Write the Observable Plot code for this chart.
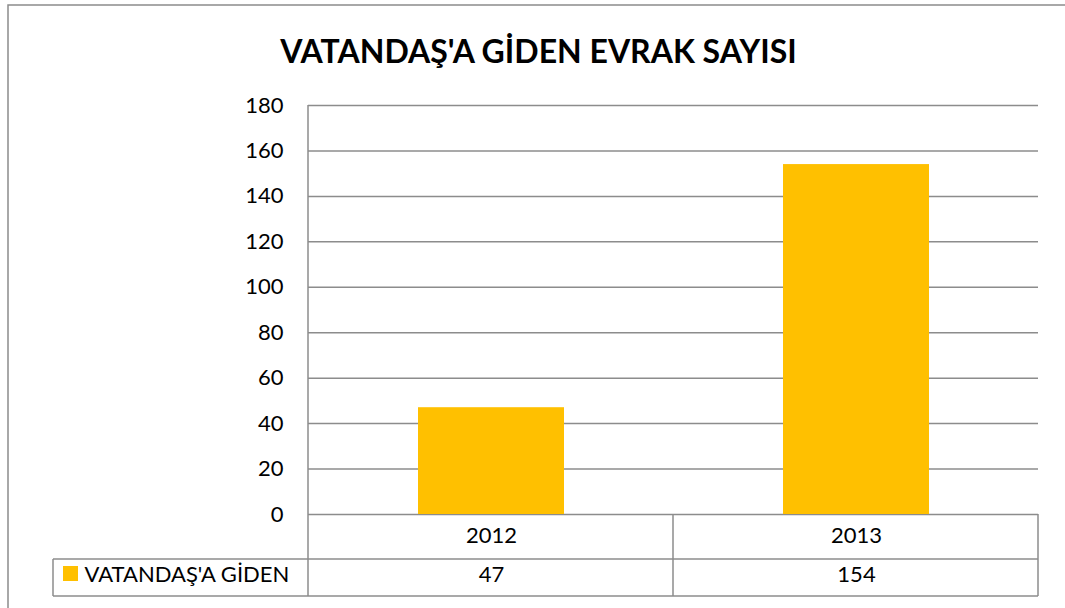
<!DOCTYPE html>
<html><head><meta charset="utf-8">
<script src="https://cdn.jsdelivr.net/npm/d3@7"></script>
<script src="https://cdn.jsdelivr.net/npm/@observablehq/plot@0.6"></script>
<style>body{margin:0;background:#fff} #chart{width:1065px;height:608px}</style>
</head><body><div id="chart"></div>
<script>
const years = ["2012", "2013"];
const values = [47, 154];
const seriesName = "VATANDAŞ'A GİDEN";
const title = "VATANDAŞ'A GİDEN EVRAK SAYISI";
const yTicks = [0, 20, 40, 60, 80, 100, 120, 140, 160, 180];

const data = years.map((y, i) => ({year: y, value: values[i]}));
const gridColor = "#8c8c8c";
const barColor = "#FFC000";

const plot = Plot.plot({
  width: 1065, height: 608,
  marginLeft: 308, marginRight: 27, marginTop: 105, marginBottom: 94,
  style: {fontFamily: "Lato", fontSize: "22px", color: "#000", background: "#fff", overflow: "visible"},
  x: {domain: years, paddingInner: 0.6, paddingOuter: 0.3, axis: null},
  y: {domain: [0, 180], axis: null, label: null},
  marks: [
    Plot.ruleY(yTicks, {stroke: gridColor, strokeWidth: 1.5}),
    Plot.barY(data, {x: "year", y: "value", fill: barColor}),
    Plot.axisY(yTicks, {anchor: "left", label: null, tickSize: 0, tickPadding: 25, fontSize: 22, fill: "#000"}),
    Plot.text(data, {x: "year", y: 0, dy: 21, text: "year", fontSize: 22, fill: "#000"}),
    Plot.text(data, {x: "year", y: 0, dy: 60, text: d => String(d.value), fontSize: 22, fill: "#000"}),
    Plot.text([seriesName], {frameAnchor: "bottom-left", lineAnchor: "middle", dx: -224, dy: 60, text: d => d, textAnchor: "start", fontSize: 22, fill: "#000"}),
    Plot.text([title], {frameAnchor: "top", lineAnchor: "middle", dx: -135, dy: -53, text: d => d, fontSize: 32, fontWeight: "bold", fill: "#000"})
  ]
});
document.getElementById("chart").appendChild(plot);

// table borders, legend swatch and outer frame
const svg = d3.select(plot);
const g = svg.append("g").attr("stroke", gridColor).attr("stroke-width", 1.5).attr("fill", "none");
const lines = [
  [308, 105, 308, 596], [673, 514, 673, 596], [1038, 514, 1038, 596], [53, 559, 53, 596],
  [53, 559, 1038, 559], [53, 596, 1038, 596]
];
lines.forEach(([x1, y1, x2, y2]) => g.append("line").attr("x1", x1).attr("y1", y1).attr("x2", x2).attr("y2", y2));
g.append("rect").attr("x", 8).attr("y", 5).attr("width", 1100).attr("height", 700);
svg.append("rect").attr("x", 63).attr("y", 566).attr("width", 15).attr("height", 15).attr("fill", barColor);
</script></body></html>
